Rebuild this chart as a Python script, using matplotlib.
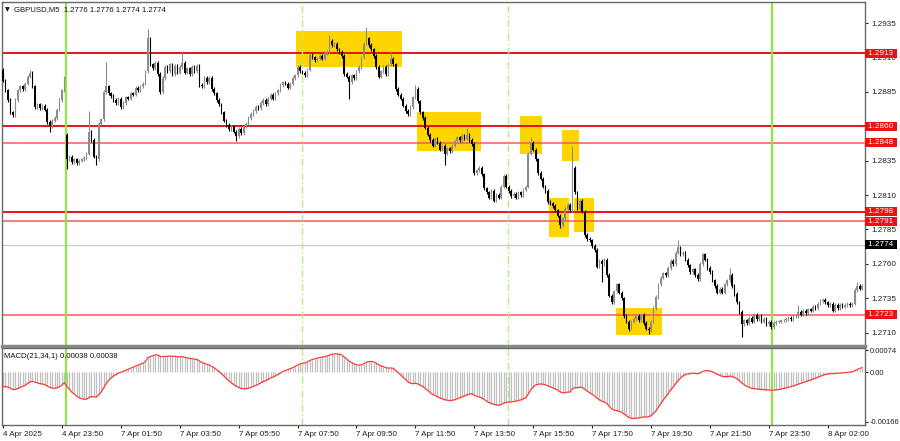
import numpy as np
import matplotlib
matplotlib.use("Agg")
import matplotlib.pyplot as plt
from matplotlib.transforms import blended_transform_factory

# ---------------- data ----------------
symbol_title = "GBPUSD,M5  1.2776 1.2776 1.2774 1.2774"
macd_title = "MACD(21,34,1) 0.00038 0.00038"

# M5 closes, in pips: price = 1 + v / 10000   (one line = 2 hours = 24 candles)
close_pips = [
    2893, 2886, 2879, 2870, 2868, 2879, 2886, 2889, 2887, 2891, 2896, 2899, 2889, 2874, 2876, 2873, 2875, 2872, 2863, 2860, 2864, 2866, 2872, 2879,
    2886, 2895, 2836, 2838, 2834, 2836, 2833, 2835, 2836, 2837, 2840, 2856, 2850, 2838, 2836, 2862, 2865, 2885, 2889, 2884, 2882, 2879, 2877, 2880,
    2874, 2877, 2881, 2880, 2884, 2883, 2888, 2886, 2889, 2891, 2900, 2924, 2905, 2902, 2906, 2898, 2885, 2895, 2903, 2900, 2905, 2898, 2904, 2899,
    2903, 2906, 2899, 2902, 2898, 2903, 2900, 2904, 2890, 2889, 2895, 2892, 2895, 2887, 2884, 2879, 2876, 2870, 2864, 2861, 2858, 2860, 2856, 2853,
    2858, 2855, 2860, 2862, 2866, 2869, 2871, 2874, 2873, 2877, 2879, 2876, 2880, 2883, 2880, 2884, 2886, 2890, 2892, 2891, 2888, 2891, 2895, 2897,
    2903, 2900, 2899, 2897, 2901, 2912, 2910, 2908, 2909, 2911, 2909, 2913, 2914, 2922, 2919, 2920, 2916, 2914, 2911, 2898, 2896, 2892, 2897, 2895,
    2900, 2903, 2910, 2920, 2924, 2919, 2916, 2911, 2903, 2896, 2900, 2903, 2898, 2905, 2909, 2905, 2887, 2883, 2880, 2875, 2871, 2869, 2874, 2881,
    2887, 2878, 2870, 2866, 2859, 2854, 2850, 2846, 2851, 2848, 2843, 2846, 2840, 2844, 2842, 2846, 2849, 2852, 2850, 2853, 2851, 2854, 2850, 2847,
    2826, 2828, 2830, 2825, 2815, 2812, 2808, 2813, 2806, 2810, 2808, 2816, 2824, 2816, 2813, 2809, 2811, 2808, 2812, 2810, 2814, 2816, 2840, 2848,
    2843, 2836, 2826, 2822, 2816, 2813, 2805, 2804, 2802, 2799, 2795, 2788, 2793, 2800, 2803, 2799, 2830, 2812, 2800, 2806, 2798, 2781, 2778, 2777,
    2773, 2770, 2758, 2762, 2760, 2763, 2752, 2737, 2732, 2740, 2745, 2739, 2735, 2722, 2718, 2713, 2718, 2720, 2722, 2719, 2723, 2717, 2713, 2712,
    2718, 2728, 2736, 2745, 2750, 2753, 2752, 2757, 2762, 2760, 2768, 2772, 2767, 2768, 2763, 2759, 2754, 2756, 2752, 2749, 2760, 2767, 2763, 2757,
    2754, 2748, 2744, 2739, 2742, 2739, 2745, 2748, 2752, 2744, 2738, 2732, 2725, 2716, 2719, 2717, 2721, 2718, 2723, 2720, 2722, 2718, 2720, 2716,
    2718, 2714, 2717, 2718, 2718, 2719, 2719, 2720, 2721, 2720, 2722, 2722, 2725, 2723, 2726, 2724, 2727, 2726, 2729, 2728, 2731, 2733, 2734, 2732,
    2730, 2731, 2726, 2730, 2728, 2730, 2729, 2730, 2731, 2730, 2731, 2741, 2744, 2742, 2744,
]
# opens that differ from the previous close (first bar, Monday gap)
open_overrides = {0: 2901, 26: 2854}
# visible long wicks
high_spikes = {0: 2902, 11: 2901, 26: 2854, 35: 2871, 42: 2907, 59: 2931, 73: 2914, 133: 2926,
               148: 2932, 158: 2914, 168: 2890, 189: 2859, 215: 2852, 232: 2846, 275: 2777,
               296: 2757, 324: 2730, 348: 2747}
low_spikes = {19: 2856, 26: 2829, 38: 2832, 95: 2849, 141: 2880, 180: 2832, 227: 2786,
              244: 2747, 255: 2711, 263: 2709, 301: 2707}

levels = [1.2913, 1.2860, 1.2848, 1.2798, 1.2791, 1.2723]
level_strong = [True, True, False, True, False, False]
current_price = 1.2774

# yellow zones: (first bar, last bar, low price, high price)
zones = [
    (119.4, 162.6, 1.29030, 1.29292),
    (168.7, 194.6, 1.28420, 1.28703),
    (210.6, 219.6, 1.28400, 1.28674),
    (227.6, 234.5, 1.28347, 1.28570),
    (222.6, 230.5, 1.27797, 1.28076),
    (232.6, 240.7, 1.27834, 1.28081),
    (249.6, 268.5, 1.27085, 1.27282),
]

day_separators = [25.5, 313.5]
session_lines = [121.75, 205.75]

time_tick_idx = [0, 24, 48, 72, 96, 120, 144, 168, 192, 216, 240, 264, 288, 312, 336]
time_tick_labels = ["4 Apr 2025", "4 Apr 23:50", "7 Apr 01:50", "7 Apr 03:50", "7 Apr 05:50",
                    "7 Apr 07:50", "7 Apr 09:50", "7 Apr 11:50", "7 Apr 13:50", "7 Apr 15:50",
                    "7 Apr 17:50", "7 Apr 19:50", "7 Apr 21:50", "7 Apr 23:50", "8 Apr 02:00"]

price_ticks = [1.2935, 1.2910, 1.2885, 1.2860, 1.2835, 1.2810, 1.2785, 1.2760, 1.2735, 1.2710]
hidden_price_labels = [1.2860]   # covered by the level box in the reference
macd_ticks = [0.00074, 0.0, -0.00166]
macd_tick_labels = ["0.00074", "0.00", "-0.00166"]
macd_fast, macd_slow = 21, 34
macd_start = -0.00048

# ---------------- derived ----------------
closes = 1 + np.array(close_pips, dtype=float) / 10000.0
n = len(closes)
idx = np.arange(n)
opens = np.empty(n)
opens[1:] = closes[:-1]
opens[0] = closes[0]
for k, v in open_overrides.items():
    opens[k] = 1 + v / 10000.0
pad = 0.00012
highs = np.maximum(opens, closes) + pad
lows = np.minimum(opens, closes) - pad
for k, v in high_spikes.items():
    highs[k] = max(highs[k], 1 + v / 10000.0)
for k, v in low_spikes.items():
    lows[k] = min(lows[k], 1 + v / 10000.0)

a_f = 2.0 / (macd_fast + 1)
a_s = 2.0 / (macd_slow + 1)
ef = np.empty(n)
es = np.empty(n)
ef[0] = closes[0]
es[0] = closes[0] - macd_start
for i in range(1, n):
    ef[i] = ef[i - 1] + a_f * (closes[i] - ef[i - 1])
    es[i] = es[i - 1] + a_s * (closes[i] - es[i - 1])
macd = ef - es

# ---------------- drawing ----------------
FONT = ["Liberation Sans", "DejaVu Sans"]
plt.rcParams["font.family"] = FONT

W, H = 900, 441
fig = plt.figure(figsize=(W / 100, H / 100), dpi=100)
fig.patch.set_facecolor("white")

ax = fig.add_axes([2 / W, 1 - 346 / H, 863 / W, 344 / H])
ax2 = fig.add_axes([2 / W, 1 - 425 / H, 863 / W, 77 / H])

xlim = (-0.41, 351.2)

# zones
for x0, x1, p0, p1 in zones:
    ax.add_patch(plt.Rectangle((x0, p0), x1 - x0, p1 - p0, facecolor="#ffd500",
                               edgecolor="none", zorder=1))

# level lines
for lv, strong in zip(levels, level_strong):
    ax.axhline(lv, color="#e8000f" if strong else "#f55a5a", lw=1.3 if strong else 1.1, zorder=2)
ax.axhline(current_price, color="#c8c8c8", lw=0.9, zorder=1.5)

for xv in day_separators:
    for a in (ax, ax2):
        a.axvline(xv, color="#86ee2a", lw=1.4, zorder=2.2)
for xv in session_lines:
    for a in (ax, ax2):
        a.axvline(xv, color="#b4ec86", lw=1.0, ls=(0, (5, 2, 1, 2)), zorder=2.2)

# candles
up = closes >= opens
col = np.where(up, "#8c8c8c", "#000000")
ax.vlines(idx, lows, highs, colors=col, lw=0.8, zorder=3)
body_h = np.abs(closes - opens)
body_h = np.maximum(body_h, 0.00004)
body_b = np.minimum(opens, closes)
ax.bar(idx, body_h, bottom=body_b, width=0.62, color=col, edgecolor="none", zorder=3.2)

ax.set_xlim(*xlim)
ax.set_ylim(1.27003, 1.29503)
ax.set_xticks([])
ax.yaxis.tick_right()
ax.set_yticks(price_ticks)
ax.set_yticklabels(["" if p in hidden_price_labels else f"{p:.4f}" for p in price_ticks])
ax.tick_params(axis="y", direction="out", length=2.5, width=0.8, pad=2,
               labelsize=5.9, colors="#202020")
for s in ax.spines.values():
    s.set_color("#6a6a6a")
    s.set_linewidth(1.0)
ax.spines["bottom"].set_linewidth(2.5)
ax.spines["bottom"].set_color("#8a8a8a")

# level labels on the price scale
tr = blended_transform_factory(ax.transAxes, ax.transData)
for lv in levels:
    ax.text(1.0015, lv, f" {lv:.4f} ", transform=tr, ha="left", va="center", fontsize=5.9,
            color="white", zorder=10, clip_on=False,
            bbox=dict(boxstyle="square,pad=0.12", fc="#f01010", ec="none"))
ax.text(1.0015, current_price, f" {current_price:.4f} ", transform=tr, ha="left", va="center",
        fontsize=5.9, color="white", zorder=10, clip_on=False,
        bbox=dict(boxstyle="square,pad=0.12", fc="#000000", ec="none"))

ax.text(0.004, 0.985, "\u25BC", transform=ax.transAxes, ha="left", va="top",
        fontsize=4.5, color="#111111", family=["DejaVu Sans"])
ax.text(0.0135, 0.988, symbol_title, transform=ax.transAxes, ha="left", va="top",
        fontsize=5.6, color="#111111")

# MACD panel
ax2.vlines(idx, 0, macd, colors="#c0c0c0", lw=0.9, zorder=1)
ax2.plot(idx, macd, color="#ff3a3a", lw=0.9, zorder=3)
ax2.set_xlim(*xlim)
ax2.set_ylim(-0.00177, 0.00082)
ax2.yaxis.tick_right()
ax2.set_yticks(macd_ticks)
ax2.set_yticklabels(macd_tick_labels)
ax2.tick_params(axis="y", direction="out", length=2.0, width=0.8, pad=1.2,
                labelsize=5.5, colors="#202020")
ax2.set_xticks(time_tick_idx)
ax2.set_xticklabels(time_tick_labels)
ax2.tick_params(axis="x", direction="out", length=2.5, width=0.8, pad=2,
                labelsize=5.8, colors="#202020")
for lab in ax2.get_xticklabels():
    lab.set_horizontalalignment("left")
for s in ax2.spines.values():
    s.set_color("#6a6a6a")
    s.set_linewidth(1.0)
ax2.text(0.002, 0.93, macd_title, transform=ax2.transAxes, ha="left", va="top",
         fontsize=5.6, color="#111111")

fig.savefig("out.png", dpi=100, facecolor="white")
